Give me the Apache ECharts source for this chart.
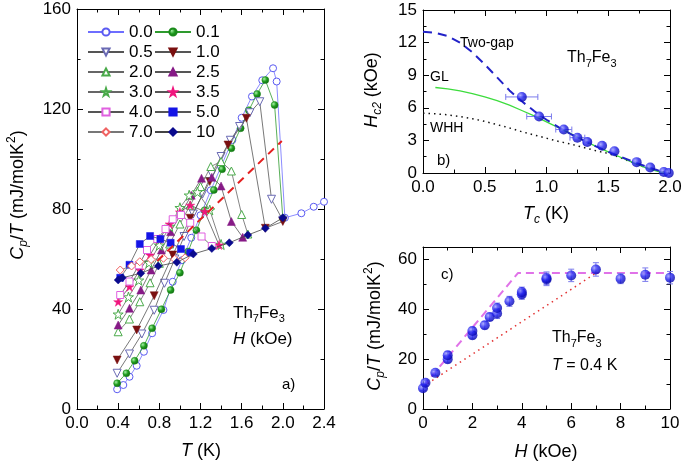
<!DOCTYPE html>
<html><head><meta charset="utf-8">
<script src="https://cdn.jsdelivr.net/npm/echarts@6/dist/echarts.min.js"></script>
<style>html,body{margin:0;padding:0;background:#fff}#c{width:685px;height:467px}</style>
</head><body><div id="c"></div>
<script>
const F = '"Liberation Sans", Arial, sans-serif';

// ---------- Panel a: Cp/T vs T for fields (kOe) ----------
const fieldLabels = ['0.0','0.1','0.5','1.0','2.0','2.5','3.0','3.5','4.0','5.0','7.0','10'];
const cp00 = [[0.39,7.9],[0.45,9.6],[0.51,12.9],[0.58,17.3],[0.65,22.9],[0.73,30.3],[0.84,39.6],[0.93,50.9],[1.02,59.5],[1.11,68.5],[1.20,77.5],[1.30,87.5],[1.40,97],[1.51,107.6],[1.60,116.5],[1.70,125],[1.80,131.5],[1.905,136.3],[1.94,131],[2.02,76.5],[2.18,78.3],[2.30,80.9],[2.40,82.9]];
const cp01 = [[0.39,10.3],[0.48,14.3],[0.56,19.3],[0.65,25.3],[0.73,32.3],[0.82,39.9],[0.91,47.6],[1.00,54.5],[1.08,63],[1.16,71.5],[1.24,79.5],[1.33,87.6],[1.41,95.9],[1.50,104.3],[1.59,112.3],[1.67,119.5],[1.75,126],[1.83,131.6],[1.92,121.6],[2.00,76.3]];
const cp05 = [[0.39,14.3],[0.51,22],[0.63,30],[0.75,39.5],[0.85,50.3],[0.95,60],[1.04,69],[1.13,78],[1.22,86],[1.31,94],[1.40,101],[1.49,107.5],[1.58,113],[1.68,118.5],[1.776,122.9],[1.89,83.9],[2.00,75.5]];
const cp10 = [[0.39,19.6],[0.58,31.6],[0.75,45.3],[0.93,61.6],[1.10,76.3],[1.29,91],[1.467,105.6],[1.646,116.3],[1.83,72.3],[2.00,75]];
const cp20 = [[0.40,30.9],[0.51,36],[0.61,42.9],[0.71,50.5],[0.80,58.3],[0.90,66],[1.00,74],[1.10,81.5],[1.20,89],[1.30,97],[1.40,99],[1.50,95.2],[1.60,77.8],[1.66,70]];
const cp25 = [[0.40,33.6],[0.51,40.3],[0.62,47.6],[0.72,55.6],[0.82,63.6],[0.91,70.9],[1.01,78],[1.11,85.5],[1.21,92.3],[1.31,92.7],[1.40,89.2],[1.50,75],[1.61,68.7]];
const cp30 = [[0.40,37.9],[0.50,44.8],[0.60,51.5],[0.70,58.5],[0.80,65.5],[0.90,73],[1.00,80.5],[1.09,85.5],[1.17,86.8],[1.29,79.6],[1.40,65.8]];
const cp35 = [[0.40,42.9],[0.51,48.9],[0.61,55.6],[0.71,61.6],[0.80,68],[0.90,74],[1.00,78.8],[1.10,81.5],[1.24,79],[1.38,65.6]];
const cp40 = [[0.42,45.6],[0.51,51],[0.60,57.5],[0.68,63.6],[0.78,68],[0.86,72],[0.93,75.9],[1.01,77.6],[1.10,74.5],[1.21,69],[1.31,65.2]];
const cp50 = [[0.42,52.5],[0.51,57.7],[0.61,66],[0.71,69.2],[0.81,68],[0.91,66.5],[1.01,64],[1.10,62.5]];
const cp70 = [[0.42,55.6],[0.53,57.2],[0.61,58.9],[0.72,59.8],[0.84,60.3],[0.95,59.9],[1.05,60.5]];
const cp100 = [[0.40,51.6],[0.44,52.5],[0.62,54.3],[0.79,57.2],[0.97,58.7],[1.13,62],[1.31,64.2],[1.48,66.5],[1.66,69.6],[1.83,72.3],[2.00,76.5]];
const cpCurves = [cp00,cp01,cp05,cp10,cp20,cp25,cp30,cp35,cp40,cp50,cp70,cp100];
const entropyGuide = [[0.78,59.2],[1.99,107.2]];
const aXTicks = [0,0.4,0.8,1.2,1.6,2.0,2.4];
const aYTicks = [0,40,80,120,160];

// ---------- Panel b: Hc2 vs Tc ----------
const tcVals = [0.80,0.94,1.14,1.25,1.33,1.45,1.55,1.73,1.84,1.95,1.99];
const hc2Vals = [7.0,5.2,4.0,3.25,2.85,2.5,2.0,1.0,0.5,0.1,0.0];
const tcErr = [0.13,0.10,0.065,0.06,0.03,0,0,0,0,0,0];
const twoGap = [[0,13.0],[0.1,12.9],[0.2,12.6],[0.3,12.0],[0.4,11.1],[0.5,10.0],[0.6,8.8],[0.7,7.6],[0.8,6.6],[0.9,5.7],[1.0,4.9],[1.1,4.2],[1.2,3.55],[1.3,3.0],[1.4,2.45],[1.5,1.95],[1.6,1.5],[1.7,1.05],[1.8,0.62],[1.9,0.25],[1.98,0]];
const glCurve = [[0.1,7.87],[0.2,7.75],[0.3,7.55],[0.4,7.3],[0.5,7.0],[0.6,6.65],[0.7,6.25],[0.8,5.75],[0.9,5.25],[1.0,4.7],[1.1,4.15],[1.2,3.6],[1.3,3.0],[1.4,2.45],[1.5,1.95],[1.6,1.45],[1.7,0.95],[1.8,0.5],[1.9,0.15],[1.96,0]];
const whhCurve = [[0,5.5],[0.1,5.45],[0.2,5.35],[0.3,5.2],[0.4,5.0],[0.5,4.75],[0.6,4.45],[0.7,4.15],[0.8,3.8],[0.9,3.5],[1.0,3.2],[1.1,2.9],[1.2,2.65],[1.3,2.35],[1.4,2.05],[1.5,1.8],[1.6,1.4],[1.7,0.95],[1.8,0.5],[1.9,0.2],[2.0,0]];
const bXTicks = [0,0.5,1.0,1.5,2.0];
const bYTicks = [0,3,6,9,12,15];

// ---------- Panel c: Cp/T at 0.4 K vs H ----------
const hVals = [0,0.1,0.5,1,1,2,2,2.5,2.7,3,3,3.5,4,4,5,5,6,7,8,9,10];
const cpHVals = [8.3,10.5,14.5,20,21.6,29.6,31.3,33.6,36.9,38.3,40.5,43.2,46,46.9,52,52.5,53.6,56,52.3,53.9,52.7];
const cpHErr = [1,1,1,1.5,1.5,1.5,1.5,1.5,1.5,2,2,2,2,2,2.5,2.5,2.5,2.7,2,2.7,2.5];
const fitDashed = [[0,9],[3.85,54.6],[10,54.6]];
const fitDotted = [[0,9],[7,54.5]];
const cXTicks = [0,2,4,6,8,10];
const cYTicks = [0,20,40,60];
const cYMinor = [10,30,50];

// ---------- styles ----------
const STAR = 'path://M50,0 L61.8,35.3 98.9,35.3 68.9,57.1 80.4,92.7 50,70.7 19.6,92.7 31.1,57.1 1.1,35.3 38.2,35.3 Z';
const greenBall = {type:'radial',x:0.35,y:0.35,r:0.75,colorStops:[{offset:0,color:'#a8f0a8'},{offset:0.45,color:'#22a022'},{offset:1,color:'#0b5e0b'}]};
const blueBall = {type:'radial',x:0.35,y:0.35,r:0.75,colorStops:[{offset:0,color:'#9a9aff'},{offset:0.45,color:'#2020ee'},{offset:1,color:'#0000a0'}]};
const curveStyle = [
  {sym:'circle', open:true, c:'#5a5af2', line:'#6e6eff', size:7},
  {sym:'circle', open:false, c:greenBall, bc:'#1a8a1a', line:'#2e9a2e', size:7},
  {sym:'triangle', rot:180, open:true, c:'#6a6ab4', line:'#555', size:8},
  {sym:'triangle', rot:180, open:false, c:'#7a1010', line:'#555', size:8},
  {sym:'triangle', open:true, c:'#4aaa4a', line:'#666', size:8},
  {sym:'triangle', open:false, c:'#861a86', line:'#555', size:8},
  {sym:STAR, open:true, c:'#4aaa4a', line:'#666', size:10},
  {sym:STAR, open:false, c:'#f0167e', line:'#555', size:9},
  {sym:'rect', open:true, c:'#e060e0', line:'#555', size:7},
  {sym:'rect', open:false, c:'#1414e6', line:'#555', size:7},
  {sym:'diamond', open:true, c:'#f06262', line:'#777', size:8},
  {sym:'diamond', open:false, c:'#0a0a8e', line:'#444', size:8}
];

function ax(gi, pos, min, max, interval, labels, fmt, showLabel, extra) {
  const o = {type:'value', gridIndex:gi, position:pos, min:min, max:max, interval:interval,
    axisLine:{show:true,onZero:false,lineStyle:{color:'#000',width:1}},
    axisTick:{show:true,inside:true,length:6,lineStyle:{color:'#000',width:1}},
    minorTick:{show:true,splitNumber:2,length:3.5,lineStyle:{color:'#000',width:1}},
    splitLine:{show:false}, minorSplitLine:{show:false},
    axisLabel:{show:showLabel, margin:6, fontSize:17, fontFamily:F, color:'#000', formatter:fmt, customValues:labels}
  };
  if (extra) extra(o);
  return o;
}
const f1 = v => Number(v).toFixed(1);
const f0 = v => String(Math.round(v));

const cMajor = o => { o.minorTick.show = false; o.axisTick.customValues = cYTicks; };
const cMinor = o => { o.minorTick.show = false; o.axisLine.show = false; o.axisTick.customValues = cYMinor; o.axisTick.length = 3.5; o.axisLabel.show = false; };

const xAxis = [
  ax(0,'bottom',0,2.4,0.4,aXTicks,f1,true), ax(0,'top',0,2.4,0.4,aXTicks,f1,false),
  ax(1,'bottom',0,2,0.5,bXTicks,f1,true), ax(1,'top',0,2,0.5,bXTicks,f1,false),
  ax(2,'bottom',0,10,2,cXTicks,f0,true), ax(2,'top',0,10,2,cXTicks,f0,false)
];
const yAxis = [
  ax(0,'left',0,160,40,aYTicks,f0,true), ax(0,'right',0,160,40,aYTicks,f0,false),
  ax(1,'left',0,15,3,bYTicks,f0,true), ax(1,'right',0,15,3,bYTicks,f0,false),
  ax(2,'left',0,65,20,cYTicks,f0,true,cMajor), ax(2,'right',0,65,20,cYTicks,f0,false,cMajor),
  ax(2,'left',0,65,10,cYMinor,f0,false,cMinor), ax(2,'right',0,65,10,cYMinor,f0,false,cMinor)
];

const series = [];
cpCurves.forEach((d, k) => {
  const s = curveStyle[k];
  series.push({
    type:'line', name:fieldLabels[k], xAxisIndex:0, yAxisIndex:0, data:d,
    symbol:s.sym, symbolSize:s.size, symbolRotate:s.rot||0, showAllSymbol:true,
    lineStyle:{color:s.line, width:0.8},
    itemStyle: s.open ? {color:'#fff', borderColor:s.c, borderWidth:1}
                      : {color:s.c, borderColor:s.bc||s.c, borderWidth:0.5},
    z: 2 + k*0.01, emphasis:{disabled:true}
  });
});
series.push({type:'line', xAxisIndex:0, yAxisIndex:0, data:entropyGuide, symbol:'none',
  lineStyle:{color:'#e42020', width:2, type:[8,6]}, z:5, emphasis:{disabled:true}});

function errRender(dir) {
  return function (params, api) {
    const x = api.value(0), y = api.value(1), e = api.value(2);
    if (!(e > 0)) return;
    let a, b;
    if (dir === 'x') { a = api.coord([x - e, y]); b = api.coord([x + e, y]); }
    else { a = api.coord([x, y - e]); b = api.coord([x, y + e]); }
    const st = {stroke:'#7b7bec', lineWidth:1};
    const c = 3;
    const caps = dir === 'x'
      ? [{type:'line',shape:{x1:a[0],y1:a[1]-c,x2:a[0],y2:a[1]+c},style:st},
         {type:'line',shape:{x1:b[0],y1:b[1]-c,x2:b[0],y2:b[1]+c},style:st}]
      : [{type:'line',shape:{x1:a[0]-c,y1:a[1],x2:a[0]+c,y2:a[1]},style:st},
         {type:'line',shape:{x1:b[0]-c,y1:b[1],x2:b[0]+c,y2:b[1]},style:st}];
    return {type:'group', children:[{type:'line',shape:{x1:a[0],y1:a[1],x2:b[0],y2:b[1]},style:st}].concat(caps)};
  };
}

// panel b
series.push({type:'line', xAxisIndex:2, yAxisIndex:2, data:whhCurve, symbol:'none', lineStyle:{color:'#111', width:1.5, type:[1.5,4]}, z:2});
series.push({type:'line', xAxisIndex:2, yAxisIndex:2, data:glCurve, symbol:'none', lineStyle:{color:'#3ddc3d', width:1.3}, z:2});
series.push({type:'line', xAxisIndex:2, yAxisIndex:2, data:twoGap, symbol:'none', lineStyle:{color:'#2222c8', width:2, type:[9,6]}, z:3});
series.push({type:'custom', xAxisIndex:2, yAxisIndex:2, renderItem:errRender('x'),
  data: tcVals.map((t,i)=>[t, hc2Vals[i], tcErr[i]]), encode:{x:0,y:1}, z:4});
series.push({type:'scatter', xAxisIndex:2, yAxisIndex:2, data: tcVals.map((t,i)=>[t, hc2Vals[i]]),
  symbol:'circle', symbolSize:10, itemStyle:{color:blueBall}, z:5, emphasis:{disabled:true}});

// panel c
series.push({type:'line', xAxisIndex:4, yAxisIndex:4, data:fitDotted, symbol:'none', lineStyle:{color:'#e23030', width:1.5, type:[1.5,4]}, z:2});
series.push({type:'line', xAxisIndex:4, yAxisIndex:4, data:fitDashed, symbol:'none', lineStyle:{color:'#e072e8', width:2, type:[8,5]}, z:2});
series.push({type:'custom', xAxisIndex:4, yAxisIndex:4, renderItem:errRender('y'),
  data: hVals.map((h,i)=>[h, cpHVals[i], cpHErr[i]]), encode:{x:0,y:1}, z:4});
series.push({type:'scatter', xAxisIndex:4, yAxisIndex:4, data: hVals.map((h,i)=>[h, cpHVals[i]]),
  symbol:'circle', symbolSize:10, itemStyle:{color:blueBall}, z:5, emphasis:{disabled:true}});

// text helpers
function rich(fs) {
  const sub = Math.round(fs*0.66);
  return {
    n:{fontSize:fs, fontFamily:F, fill:'#000', lineHeight:fs+6},
    i:{fontSize:fs, fontFamily:F, fontStyle:'italic', fill:'#000', lineHeight:fs+6},
    s:{fontSize:sub, fontFamily:F, fill:'#000', verticalAlign:'bottom', lineHeight:sub},
    is:{fontSize:sub, fontFamily:F, fontStyle:'italic', fill:'#000', verticalAlign:'bottom', lineHeight:sub},
    sup:{fontSize:sub, fontFamily:F, fill:'#000', verticalAlign:'top', lineHeight:sub}
  };
}
function txt(x, y, text, fs, align, rot) {
  return {type:'text', x:x, y:y, rotation:rot||0, silent:true, z:10,
    style:{text:text, rich:rich(fs), fontSize:fs, fontFamily:F, fill:'#000', align:align||'left', verticalAlign:'middle'}};
}
const cpTitle = '{i|C}{is|p}{n|/}{i|T}{n| (mJ/molK}{sup|2}{n|)}';
const graphic = [
  txt(18, 195, cpTitle, 18, 'center', Math.PI/2),
  txt(201, 451, '{i|T}{n| (K)}', 18, 'center'),
  txt(233, 313, '{n|Th}{s|7}{n|Fe}{s|3}', 17),
  txt(233, 339, '{i|H}{n| (kOe)}', 17),
  txt(282, 385, '{n|a)}', 15),
  txt(372, 90, '{i|H}{is|c2}{n| (kOe)}', 18, 'center', Math.PI/2),
  txt(546, 214, '{i|T}{is|c}{n| (K)}', 18, 'center'),
  txt(460, 43, '{n|Two-gap}', 14),
  txt(567, 58, '{n|Th}{s|7}{n|Fe}{s|3}', 16),
  txt(430, 77, '{n|GL}', 14),
  txt(430, 128, '{n|WHH}', 14),
  txt(437, 161, '{n|b)}', 15),
  txt(375, 326, cpTitle, 18, 'center', Math.PI/2),
  txt(546, 452, '{i|H}{n| (kOe)}', 18, 'center'),
  txt(441, 275, '{n|c)}', 15),
  txt(552, 338, '{n|Th}{s|7}{n|Fe}{s|3}', 16),
  txt(552, 366, '{i|T}{n| = 0.4 K}', 16)
];

const legendBase = {orient:'vertical', top:22, itemWidth:36, itemHeight:9, itemGap:0, padding:0,
  selectedMode:false, textStyle:{fontSize:17, fontFamily:F, color:'#000', lineHeight:20}};
const legend = [
  Object.assign({}, legendBase, {left:87, data:['0.0','0.5','2.0','3.0','4.0','7.0']}),
  Object.assign({}, legendBase, {left:154, data:['0.1','1.0','2.5','3.5','5.0','10']})
];

const chart = echarts.init(document.getElementById('c'), null, {renderer:'canvas'});
chart.setOption({
  animation:false, backgroundColor:'#fff',
  grid:[{left:77,top:9,width:247,height:400},{left:423,top:10,width:247,height:163},{left:423,top:247,width:247,height:162}],
  xAxis:xAxis, yAxis:yAxis, legend:legend, series:series, graphic:graphic
});
</script></body></html>
